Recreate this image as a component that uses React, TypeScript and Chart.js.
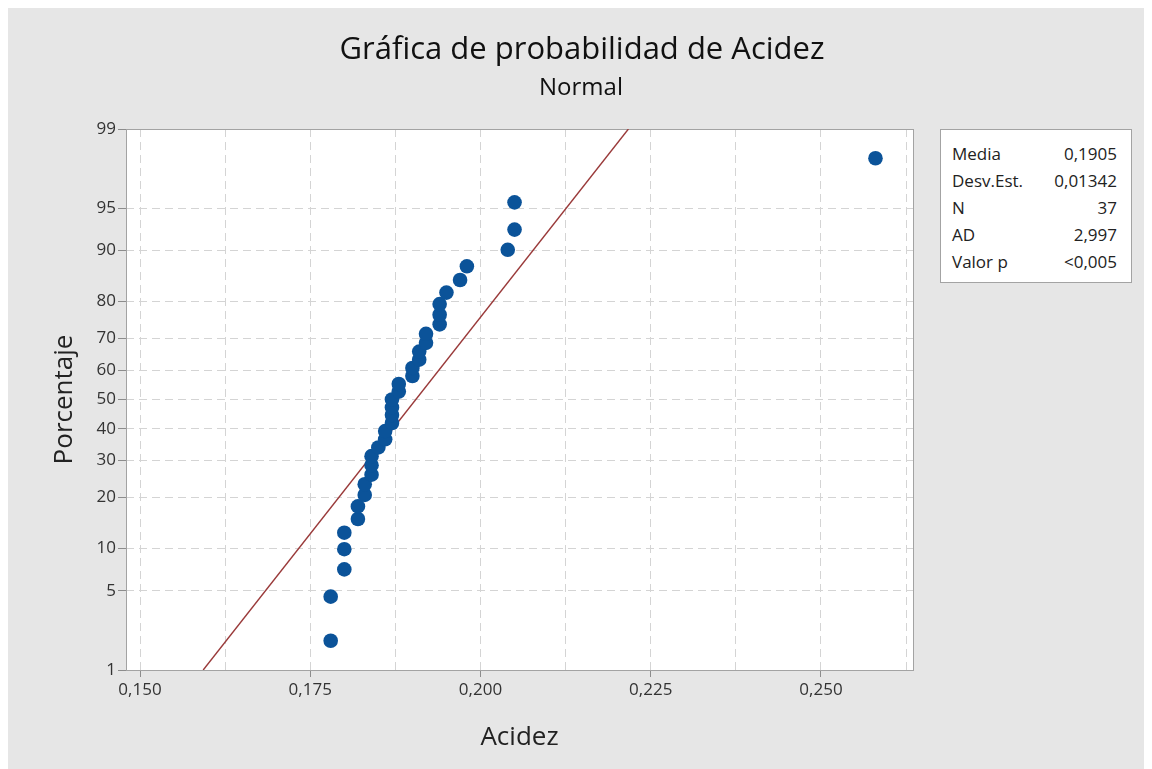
import React, { useEffect, useRef } from "react";
import { Chart, registerables, LinearScale } from "chart.js";

Chart.register(...registerables);

// ---- data ----
const acidez = [
  0.178, 0.178, 0.18, 0.18, 0.18, 0.182, 0.182, 0.183, 0.183, 0.184, 0.184, 0.184,
  0.185, 0.186, 0.186, 0.187, 0.187, 0.187, 0.187, 0.188, 0.188, 0.19, 0.19, 0.191,
  0.191, 0.192, 0.192, 0.194, 0.194, 0.194, 0.195, 0.197, 0.198, 0.204, 0.205, 0.205,
  0.258,
];
const porcentaje = [
  1.9, 4.5, 7.2, 9.9, 12.6, 15.2, 17.9, 20.6, 23.3, 25.9, 28.6, 31.3, 34.0, 36.6,
  39.3, 42.0, 44.7, 47.3, 50.0, 52.7, 55.3, 58.0, 60.7, 63.4, 66.0, 68.7, 71.4, 74.1,
  76.7, 79.4, 82.1, 84.8, 87.4, 90.1, 92.8, 95.5, 98.1,
];
const yTicks = [1, 5, 10, 20, 30, 40, 50, 60, 70, 80, 90, 95, 99];
const xTicks = [0.15, 0.1625, 0.175, 0.1875, 0.2, 0.2125, 0.225, 0.2375, 0.25, 0.2625];
const xLabeled = [0.15, 0.175, 0.2, 0.225, 0.25];
const media = 0.1905;
const desvEst = 0.01342;
const statLabels = ["Media", "Desv.Est.", "N", "AD", "Valor p"];
const statValues = ["0,1905", "0,01342", "37", "2,997", "<0,005"];

// ---- normal distribution helpers for the probability scale ----
function probit(p: number): number {
  const a = [-39.69683028665376, 220.9460984245205, -275.9285104469687, 138.357751867269, -30.66479806614716, 2.506628277459239];
  const b = [-54.47609879822406, 161.5858368580409, -155.6989798598866, 66.80131188771972, -13.28068155288572];
  const c = [-0.007784894002430293, -0.3223964580411365, -2.400758277161838, -2.549732539343734, 4.374664141464968, 2.938163982698783];
  const d = [0.007784695709041462, 0.3224671290700398, 2.445134137142996, 3.754408661907416];
  const pl = 0.02425;
  if (p < pl) {
    const q = Math.sqrt(-2 * Math.log(p));
    return (((((c[0] * q + c[1]) * q + c[2]) * q + c[3]) * q + c[4]) * q + c[5]) / ((((d[0] * q + d[1]) * q + d[2]) * q + d[3]) * q + 1);
  }
  if (p <= 1 - pl) {
    const q = p - 0.5;
    const r = q * q;
    return ((((((a[0] * r + a[1]) * r + a[2]) * r + a[3]) * r + a[4]) * r + a[5]) * q) / (((((b[0] * r + b[1]) * r + b[2]) * r + b[3]) * r + b[4]) * r + 1);
  }
  const q = Math.sqrt(-2 * Math.log(1 - p));
  return -(((((c[0] * q + c[1]) * q + c[2]) * q + c[3]) * q + c[4]) * q + c[5]) / ((((d[0] * q + d[1]) * q + d[2]) * q + d[3]) * q + 1);
}
function normCdf(z: number): number {
  const t = 1 / (1 + 0.2316419 * Math.abs(z));
  const dd = 0.3989423 * Math.exp((-z * z) / 2);
  const pr = dd * t * (0.3193815 + t * (-0.3565638 + t * (1.781478 + t * (-1.821256 + t * 1.330274))));
  return z > 0 ? 1 - pr : pr;
}

class ProbabilityScale extends (LinearScale as any) {
  static id = "probability";
  static defaults = {};
  configure() {
    super.configure();
    const s = probit(this.min / 100);
    this._startValue = s;
    this._endValue = probit(this.max / 100);
    this._valueRange = this._endValue - s;
  }
  getPixelForValue(v: number) {
    return this.getPixelForDecimal((probit(v / 100) - this._startValue) / this._valueRange);
  }
  getValueForPixel(px: number) {
    return normCdf(this._startValue + this.getDecimalForPixel(px) * this._valueRange) * 100;
  }
}
Chart.register(ProbabilityScale as any);

const FONT = "'Open Sans', 'Noto Sans', sans-serif";
const W = 1138;
const H = 761;

export default function App() {
  const ref = useRef<HTMLCanvasElement | null>(null);

  useEffect(() => {
    document.body.style.overflow = "hidden";
    const canvas = ref.current;
    if (!canvas) return;
    const zLow = probit(yTicks[0] / 100);
    const zHigh = probit(yTicks[yTicks.length - 1] / 100);
    const fitLine = [
      { x: media + desvEst * zLow, y: yTicks[0] },
      { x: media + desvEst * zHigh, y: yTicks[yTicks.length - 1] },
    ];
    const frame = {
      id: "frame",
      beforeDraw(chart: any) {
        const { ctx, chartArea } = chart;
        ctx.save();
        ctx.fillStyle = "#ffffff";
        ctx.fillRect(chartArea.left, chartArea.top, chartArea.right - chartArea.left, chartArea.bottom - chartArea.top);
        ctx.restore();
      },
      beforeDatasetsDraw(chart: any) {
        const { ctx, chartArea } = chart;
        ctx.save();
        ctx.strokeStyle = "#a3a3a3";
        ctx.lineWidth = 1;
        ctx.strokeRect(
          Math.round(chartArea.left) + 0.5,
          Math.round(chartArea.top) + 0.5,
          Math.round(chartArea.right - chartArea.left),
          Math.round(chartArea.bottom - chartArea.top)
        );
        ctx.restore();
      },
    };
    const chart = new Chart(canvas, {
      type: "scatter",
      data: {
        datasets: [
          {
            label: "Acidez",
            data: acidez.map((x, i) => ({ x, y: porcentaje[i] })),
            backgroundColor: "#0b5399",
            borderColor: "#0b5399",
            pointRadius: 7.3,
            borderWidth: 0,
          },
          {
            label: "Ajuste",
            data: fitLine,
            showLine: true,
            borderColor: "#9a3a3a",
            borderWidth: 1.4,
            pointRadius: 0,
          },
        ],
      },
      options: {
        animation: false,
        responsive: false,
        layout: { padding: { top: 121, left: 0, right: 233, bottom: 0 } },
        plugins: { legend: { display: false }, tooltip: { enabled: false }, title: { display: false } },
        scales: {
          x: {
            type: "linear",
            min: 0.147944,
            max: 0.26351,
            afterBuildTicks: (s: any) => {
              s.ticks = xTicks.map((v) => ({ value: v }));
            },
            afterFit: (s: any) => {
              s.height = 99;
            },
            ticks: {
              autoSkip: false,
              maxRotation: 0,
              padding: 3,
              color: "#333333",
              font: { family: FONT, size: 17 },
              callback: (v: any) => {
                const n = Number(v);
                return xLabeled.some((t) => Math.abs(t - n) < 1e-6) ? n.toFixed(3).replace(".", ",") : "";
              },
            },
            grid: {
              color: "#d4d4d4",
              lineWidth: 1,
              tickLength: 7,
              tickColor: (c: any) =>
                c.tick && xLabeled.some((t) => Math.abs(t - c.tick.value) < 1e-6) ? "#8c8c8c" : "rgba(0,0,0,0)",
              tickBorderDash: [],
            },
            border: { display: false, dash: [8, 5] },
            title: {
              display: true,
              text: "Acidez",
              color: "#222222",
              font: { family: FONT, size: 26 },
              padding: { top: 0, bottom: 16 },
            },
          },
          y: {
            type: "probability" as any,
            min: 1,
            max: 99,
            afterBuildTicks: (s: any) => {
              s.ticks = yTicks.map((v) => ({ value: v }));
            },
            afterFit: (s: any) => {
              s.width = 118;
            },
            ticks: {
              autoSkip: false,
              padding: 2,
              color: "#333333",
              font: { family: FONT, size: 17 },
              callback: (v: any) => String(v),
            },
            grid: {
              color: (c: any) =>
                c.tick && (c.tick.value === 1 || c.tick.value === 99) ? "rgba(0,0,0,0)" : "#d4d4d4",
              lineWidth: 1,
              tickLength: 8,
              tickColor: "#8c8c8c",
              tickBorderDash: [],
            },
            border: { display: false, dash: [8, 5] },
            title: {
              display: true,
              text: "Porcentaje",
              color: "#222222",
              font: { family: FONT, size: 26 },
              padding: { top: 41, bottom: 0 },
            },
          },
        },
      } as any,
      plugins: [frame],
    });
    return () => chart.destroy();
  }, []);

  return (
    <div style={{ position: "relative", width: W, height: H, background: "#e6e6e6", overflow: "hidden" }}>
      <canvas ref={ref} width={W} height={H} style={{ position: "absolute", left: 0, top: 0, width: W, height: H }} />
      <div
        style={{
          position: "absolute",
          left: 574,
          top: 20,
          transform: "translateX(-50%)",
          whiteSpace: "nowrap",
          fontFamily: FONT,
          fontSize: 31,
          lineHeight: "38px",
          color: "#111111",
        }}
      >
        Gráfica de probabilidad de Acidez
      </div>
      <div
        style={{
          position: "absolute",
          left: 573,
          top: 63,
          transform: "translateX(-50%)",
          whiteSpace: "nowrap",
          fontFamily: FONT,
          fontSize: 24,
          lineHeight: "30px",
          color: "#111111",
        }}
      >
        Normal
      </div>
      <div
        style={{
          position: "absolute",
          left: 932,
          top: 121,
          width: 192,
          height: 154,
          boxSizing: "border-box",
          background: "#ffffff",
          border: "1px solid #a3a3a3",
          padding: "10px 14px 0 11px",
          fontFamily: FONT,
          fontSize: 17,
          color: "#222222",
        }}
      >
        {statLabels.map((l, i) => (
          <div key={l} style={{ display: "flex", justifyContent: "space-between", height: 27, lineHeight: "27px" }}>
            <span>{l}</span>
            <span>{statValues[i]}</span>
          </div>
        ))}
      </div>
    </div>
  );
}
